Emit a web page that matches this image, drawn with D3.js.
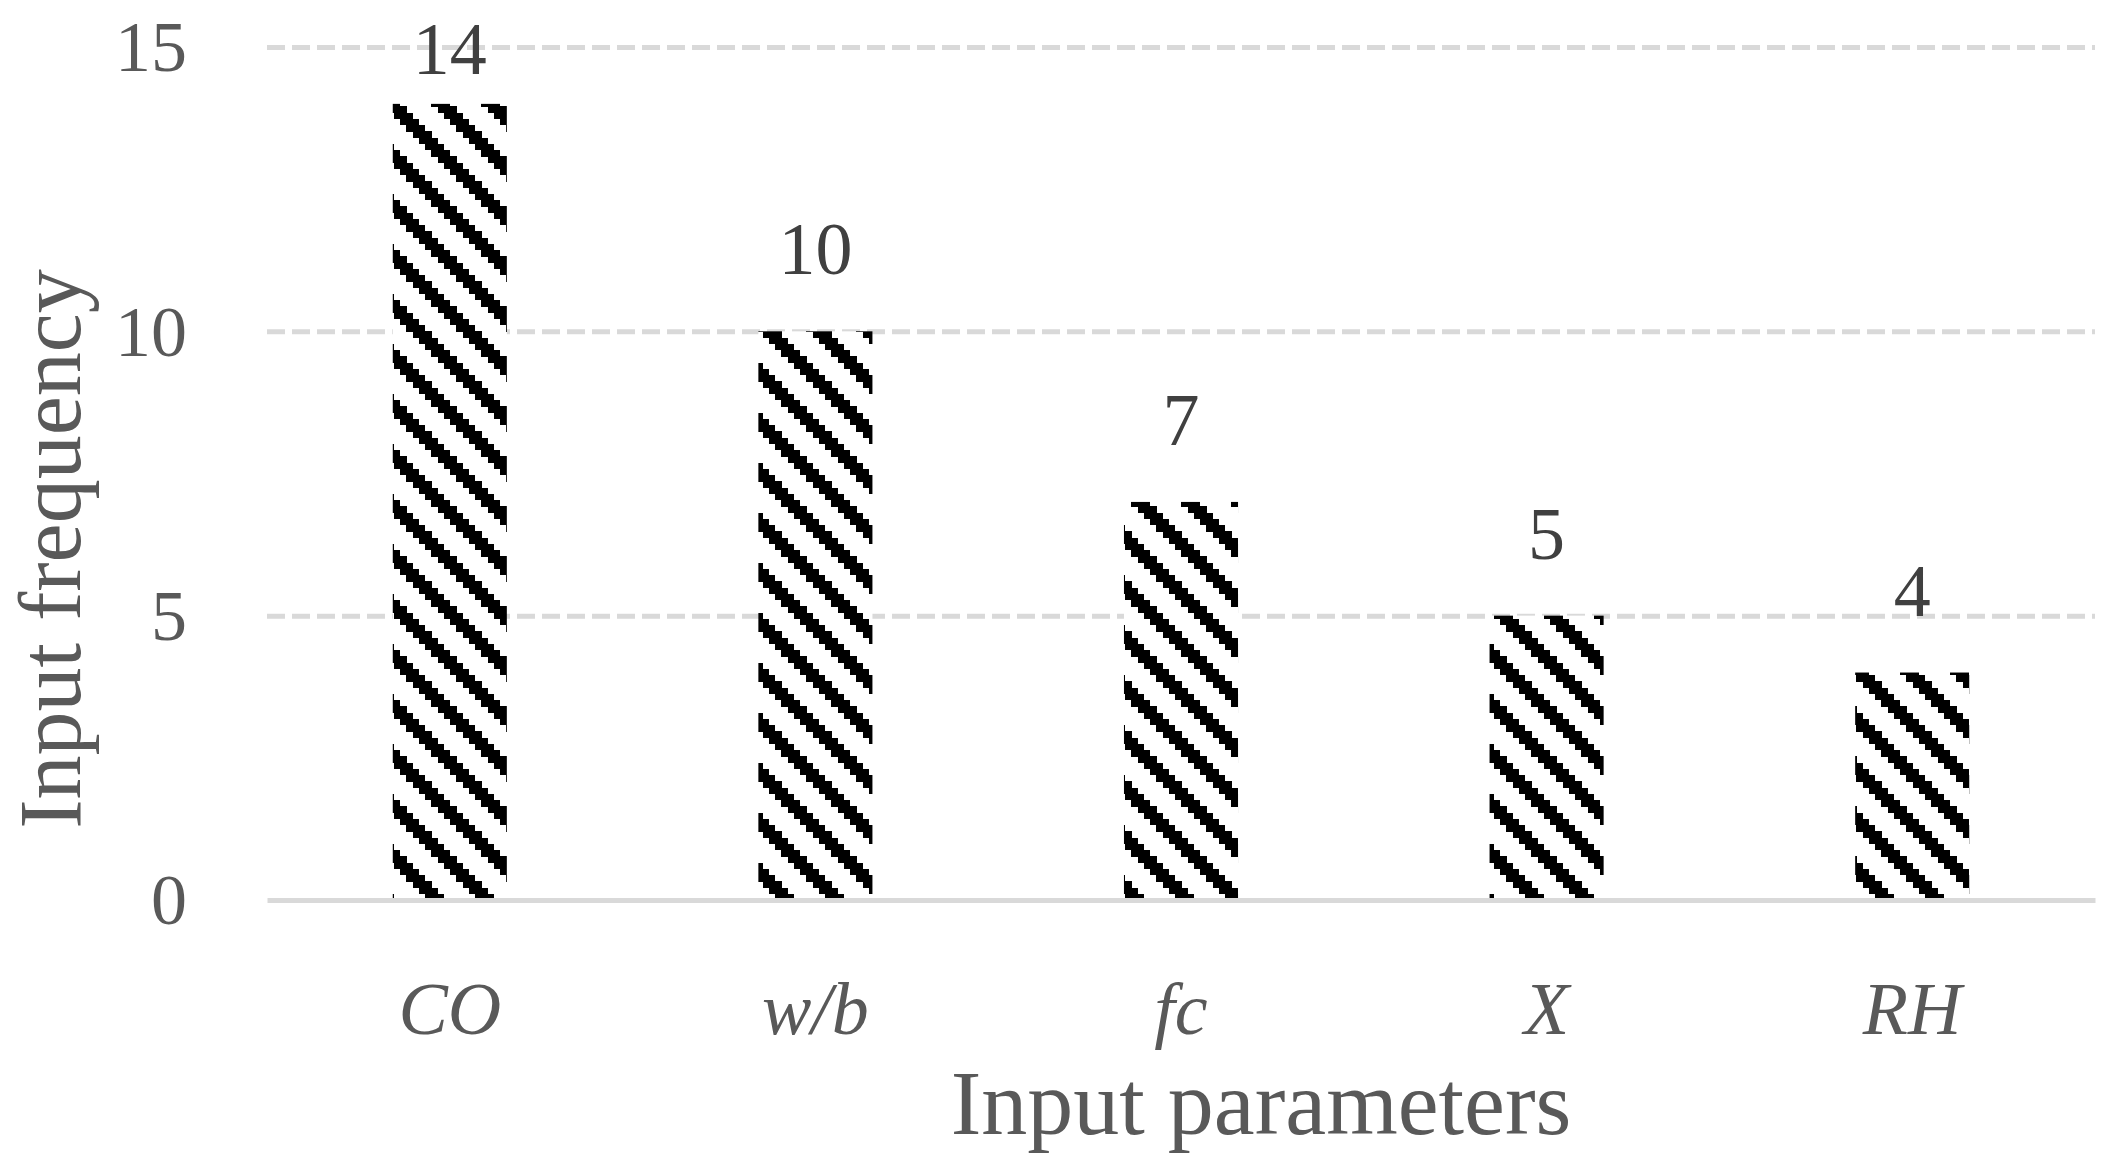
<!DOCTYPE html>
<html>
<head>
<meta charset="utf-8">
<script src="https://cdn.jsdelivr.net/npm/d3@7"></script>
<style>
    body { margin: 0; background: #fff; }
    text { font-family: "Palatino Linotype", "Book Antiqua", Palatino, "Liberation Serif", serif; }
</style>
</head>
<body>
<div id="chart"></div>
<script>
var categories = ['CO', 'w/b', 'fc', 'X', 'RH'];
var frequency = [14, 10, 7, 5, 4];
var yTicks = [0, 5, 10, 15];

var width = 2112;
var height = 1170;
var plot = { left: 267, right: 2095, top: 47, bottom: 900 };

var svg = d3.select('#chart')
    .append('svg')
        .attr('width', width)
        .attr('height', height);

// excel style "wide downward diagonal" fill, 8x8 cells
var cell = 6.25;
var hatch = svg.append('defs')
    .append('pattern')
        .attr('id', 'hatch')
        .attr('patternUnits', 'userSpaceOnUse')
        .attr('width', cell * 8)
        .attr('height', cell * 8);
hatch.append('rect')
    .attr('width', cell * 8)
    .attr('height', cell * 8)
    .attr('fill', '#fff');
d3.range(8).forEach(function(r) {
    d3.range(8).forEach(function(c) {
        var k = ((c - r) % 8 + 8) % 8;
        if (k >= 5) {
            hatch.append('rect')
                .attr('x', c * cell)
                .attr('y', r * cell)
                .attr('width', cell + 0.3)
                .attr('height', cell + 0.3)
                .attr('fill', '#000')
                .attr('shape-rendering', 'crispEdges');
        }
    });
});

var x = d3.scaleBand()
    .domain(categories)
    .range([plot.left, plot.right])
    .paddingInner(0.688)
    .paddingOuter(0.344);

var y = d3.scaleLinear()
    .domain([0, 15])
    .range([plot.bottom, plot.top]);

// gridlines + y labels
var yAxis = svg.append('g')
    .attr('transform', 'translate(' + plot.left + ',0)')
    .call(d3.axisLeft(y)
        .tickValues(yTicks)
        .tickSize(-(plot.right - plot.left))
        .tickPadding(80));
yAxis.select('.domain').remove();
yAxis.selectAll('line')
    .attr('stroke', '#d9d9d9')
    .attr('stroke-width', 5)
    .attr('stroke-dasharray', function(d) { return d === 0 ? null : '18,7'; })
    .attr('stroke-opacity', function(d) { return d === 0 ? 0 : 1; });
yAxis.selectAll('text')
    .attr('fill', '#595959')
    .style('font-size', '72px')
    .attr('dy', '0.33em');

// bars
svg.append('g')
    .selectAll('rect')
    .data(frequency)
    .enter()
    .append('rect')
        .attr('x', function(d, i) { return x(categories[i]); })
        .attr('y', function(d) { return y(d); })
        .attr('width', x.bandwidth())
        .attr('height', function(d) { return y(0) - y(d); })
        .attr('fill', 'url(#hatch)');

// value labels, kept inside the chart at the top
svg.append('g')
    .selectAll('text')
    .data(frequency)
    .enter()
    .append('text')
        .attr('x', function(d, i) { return x(categories[i]) + x.bandwidth() / 2; })
        .attr('y', function(d) { return Math.max(y(d) - 57, 74); })
        .attr('text-anchor', 'middle')
        .attr('fill', '#404040')
        .style('font-size', '74px')
        .text(function(d) { return d; });

// x axis
var xAxis = svg.append('g')
    .attr('transform', 'translate(0,' + plot.bottom + ')')
    .call(d3.axisBottom(x).tickSize(0));
xAxis.select('.domain')
    .attr('stroke', '#d9d9d9')
    .attr('stroke-width', 5);
xAxis.selectAll('text')
    .attr('y', 134)
    .attr('dy', 0)
    .attr('fill', '#595959')
    .style('font-size', '74px')
    .style('font-style', 'italic');

// axis titles
svg.append('text')
    .attr('x', 1261)
    .attr('y', 1134)
    .attr('text-anchor', 'middle')
    .attr('fill', '#595959')
    .style('font-size', '92px')
    .text('Input parameters');

svg.append('text')
    .attr('transform', 'translate(80,549) rotate(-90)')
    .attr('text-anchor', 'middle')
    .attr('fill', '#595959')
    .style('font-size', '88px')
    .text('Input frequency');
</script>
</body>
</html>
